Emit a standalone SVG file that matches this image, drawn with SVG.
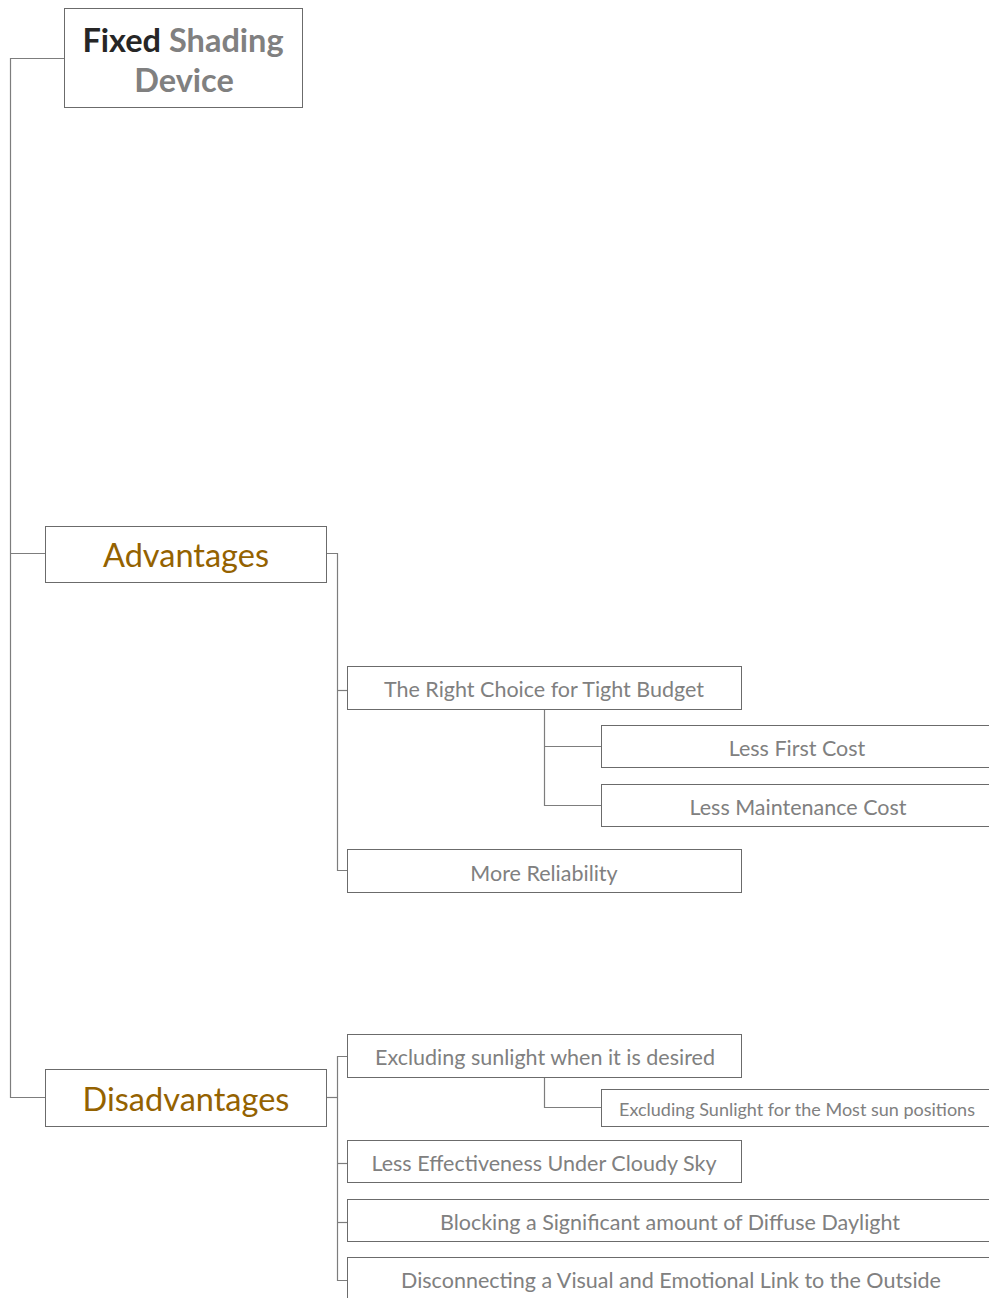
<svg xmlns="http://www.w3.org/2000/svg" width="989" height="1298" viewBox="0 0 989 1298">
  <style>
    .box { fill: #ffffff; stroke: #6b6b6b; stroke-width: 1; }
    .link { fill: none; stroke: #7d7d7d; stroke-width: 1.2; }
    .t { font-family: Lato, "Liberation Sans", sans-serif; fill: #808080; text-anchor: middle; }
    .root { font-size: 32.5px; font-weight: bold; }
    .cat { font-size: 32.5px; fill: #946200; }
    .leaf { font-size: 21.5px; }
    .small { font-size: 18px; }
  </style>
  <rect width="989" height="1298" fill="#ffffff"/>

  <!-- connectors -->
  <g id="connectors">
    <path class="link" d="M64 58.5 H10.5 V1097.5 H45"/>
    <path class="link" d="M10.5 553.5 H45"/>
    <path class="link" d="M326 553.5 H337.5 V870.5 H347"/>
    <path class="link" d="M337.5 690.5 H347"/>
    <path class="link" d="M544.5 709 V805.5 H601"/>
    <path class="link" d="M544.5 746.5 H601"/>
    <path class="link" d="M326 1097.5 H337.5"/>
    <path class="link" d="M347 1056.5 H337.5 V1280.5 H347"/>
    <path class="link" d="M337.5 1163.5 H347"/>
    <path class="link" d="M337.5 1222.5 H347"/>
    <path class="link" d="M544.5 1077 V1107.5 H601"/>
  </g>

  <g id="root">
    <rect class="box" x="64.5" y="8.5" width="238" height="99"/>
    <text class="t root" x="183" y="52"><tspan fill="#262626">Fixed</tspan> Shading</text>
    <text class="t root" x="184" y="92">Device</text>
  </g>

  <g id="advantages">
    <rect class="box" x="45.5" y="526.5" width="281" height="56"/>
    <text class="t cat" x="186" y="567">Advantages</text>
  </g>

  <g id="tight-budget">
    <rect class="box" x="347.5" y="666.5" width="394" height="43"/>
    <text class="t leaf" x="544" y="697">The Right Choice for Tight Budget</text>
  </g>

  <g id="less-first-cost">
    <rect class="box" x="601.5" y="725.5" width="400" height="42"/>
    <text class="t leaf" x="797" y="756">Less First Cost</text>
  </g>

  <g id="less-maintenance-cost">
    <rect class="box" x="601.5" y="784.5" width="400" height="42"/>
    <text class="t leaf" x="798" y="815">Less Maintenance Cost</text>
  </g>

  <g id="more-reliability">
    <rect class="box" x="347.5" y="849.5" width="394" height="43"/>
    <text class="t leaf" x="544" y="881">More Reliability</text>
  </g>

  <g id="disadvantages">
    <rect class="box" x="45.5" y="1069.5" width="281" height="57"/>
    <text class="t cat" x="186" y="1111">Disadvantages</text>
  </g>

  <g id="excluding-desired">
    <rect class="box" x="347.5" y="1034.5" width="394" height="43"/>
    <text class="t leaf" x="545" y="1065">Excluding sunlight when it is desired</text>
  </g>

  <g id="excluding-most-positions">
    <rect class="box" x="601.5" y="1089.5" width="400" height="37"/>
    <text class="t small" x="797" y="1116">Excluding Sunlight for the Most sun positions</text>
  </g>

  <g id="cloudy-sky">
    <rect class="box" x="347.5" y="1140.5" width="394" height="42"/>
    <text class="t leaf" x="544" y="1171">Less Effectiveness Under Cloudy Sky</text>
  </g>

  <g id="diffuse-daylight">
    <rect class="box" x="347.5" y="1199.5" width="660" height="42"/>
    <text class="t leaf" x="670" y="1230">Blocking a Significant amount of Diffuse Daylight</text>
  </g>

  <g id="visual-link">
    <rect class="box" x="347.5" y="1257.5" width="660" height="60"/>
    <text class="t leaf" x="671" y="1288">Disconnecting a Visual and Emotional Link to the Outside</text>
  </g>
</svg>
